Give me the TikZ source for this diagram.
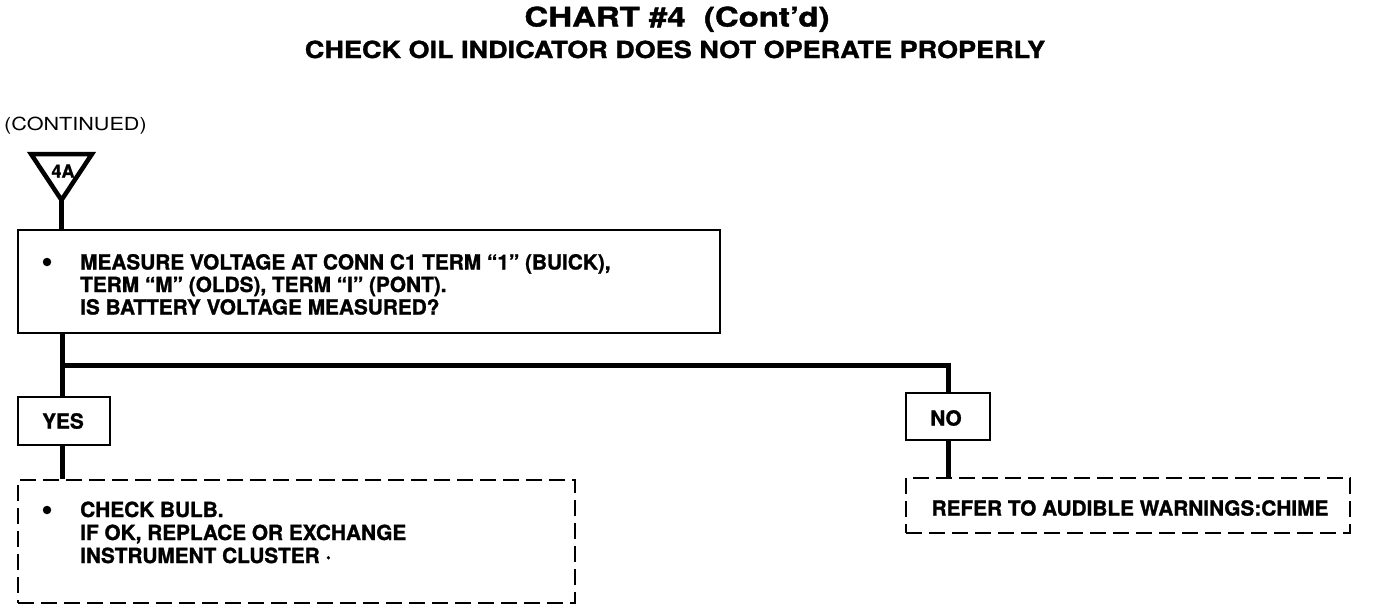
\documentclass[tikz,border=0pt]{standalone}
\usepackage{fontspec}
\setmainfont{TeX Gyre Heros}[BoldFeatures={FakeBold=1.2}]
\newfontfamily\titlefont{TeX Gyre Heros}[FakeStretch=1.22, BoldFeatures={FakeBold=1.5}]
\newfontfamily\subfont{TeX Gyre Heros}[FakeStretch=1.15, BoldFeatures={FakeBold=1.3}]
\newfontfamily\contfont{TeX Gyre Heros}[FakeStretch=1.2]
\begin{document}
\begin{tikzpicture}[x=1pt,y=-1pt,
  solidbox/.style={draw, line width=2.6pt, inner sep=0pt},
  dashbox/.style={draw, line width=2.4pt, dash pattern=on 16pt off 7pt, inner sep=0pt},
  conn/.style={line width=5pt},
  body/.style={font=\bfseries\fontsize{20.8}{24}\selectfont, inner sep=0pt, anchor=base west},
  lbl/.style={font=\bfseries\fontsize{20.8}{24}\selectfont, inner sep=0pt},
  bullet/.style={circle, fill, inner sep=0pt, minimum size=8.5pt}
]
\useasboundingbox (0,0) rectangle (1376,614);

% titles
\node[font=\titlefont\bfseries\fontsize{27}{30}\selectfont, inner sep=0pt, anchor=base] (title) at (677,26.5) {CHART \#4\ \ (Cont’d)};
\node[font=\subfont\bfseries\fontsize{23.5}{27}\selectfont, inner sep=0pt, anchor=base] (subtitle) at (675,58) {CHECK OIL INDICATOR DOES NOT OPERATE PROPERLY};
\node[font=\contfont\fontsize{18}{21}\selectfont, inner sep=0pt, anchor=base west] (cont) at (4,130) {(CONTINUED)};

% off-page connector triangle
\coordinate (tl) at (31,154);
\coordinate (tr) at (92,154);
\coordinate (tap) at (61.5,200);
\draw[line width=4.5pt, line join=miter] (tl) -- (tr) -- (tap) -- cycle;
\node[font=\bfseries\fontsize{18}{20}\selectfont, inner sep=0pt] (lbl4a) at (63,171) {4A};

% main question box
\node[solidbox, minimum width=702pt, minimum height=103pt] (q) at (369,281.5) {};
\node[bullet] (qb) at (47,262) {};
\node[body] (q1) at (80,269.5) {MEASURE VOLTAGE AT CONN C1 TERM “1” (BUICK),};
\node[body] (q2) at (80,292) {TERM “M” (OLDS), TERM “I” (PONT).};
\node[body] (q3) at (80,314.5) {IS BATTERY VOLTAGE MEASURED?};

% YES / NO boxes
\node[solidbox, minimum width=92pt, minimum height=48pt] (yes) at (64,421) {};
\node[lbl] (yest) at (63,421) {YES};
\node[solidbox, minimum width=84pt, minimum height=47pt] (no) at (948,416.5) {};
\node[lbl] (not) at (946,418) {NO};

% result boxes
\node[dashbox, minimum width=557pt, minimum height=123pt] (chk) at (296.5,541.5) {};
\node[bullet] (cb) at (47,510) {};
\node[body] (c1) at (80,517) {CHECK BULB.};
\node[body] (c2) at (80,540) {IF OK, REPLACE OR EXCHANGE};
\node[body] (c3) at (80,563) {INSTRUMENT CLUSTER ·};

\node[dashbox, minimum width=444pt, minimum height=55pt] (ref) at (1128,505.5) {};
\node[lbl] (reft) at (1130,508) {REFER TO AUDIBLE WARNINGS:CHIME};

% connectors
\coordinate (j) at (62,365);
\draw[conn] (tap) -- (tap |- q.north);
\draw[conn] (q.south -| j) -- (j |- yes.north);
\draw[conn] (j) -- (j -| no.north) -- (no.north);
\draw[conn] (yes.south -| j) -- (j |- chk.north);
\draw[conn] (no.south) -- (no.south |- ref.north);
\end{tikzpicture}
\end{document}
